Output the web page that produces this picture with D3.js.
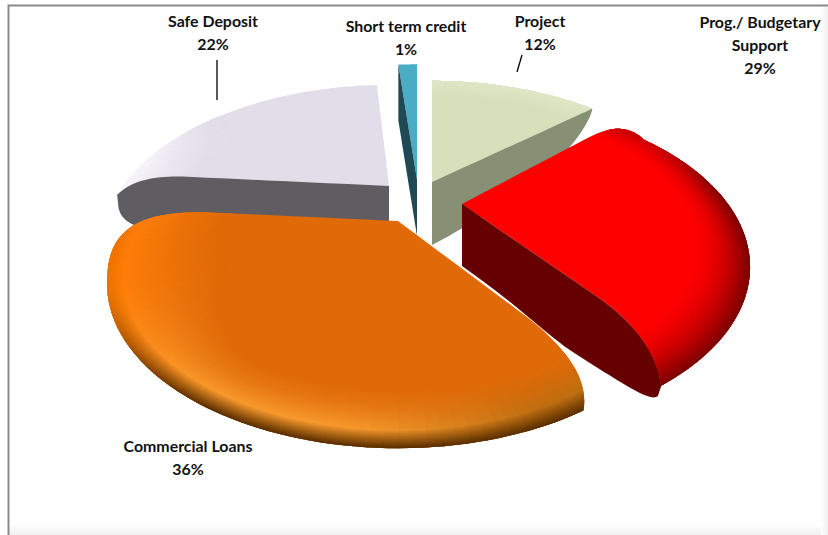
<!DOCTYPE html>
<html><head><meta charset="utf-8">
<script src="https://cdn.jsdelivr.net/npm/d3@7"></script>
<style>html,body{margin:0;padding:0;background:#fff;overflow:hidden}svg{display:block}
text{font-family:Lato,"Open Sans",sans-serif;font-weight:700;font-size:15.9px;fill:#111}</style>
</head><body><div id="chart"></div>
<script>
// ---- data ----
const categories = ["Project", "Prog./ Budgetary Support", "Commercial Loans", "Safe Deposit", "Short term credit"];
const shares = [12, 29, 36, 22, 1];

// ---- layout & style ----
const W = 828, H = 535;
const RX = 266, RY = 140, K = 0.384;          // perspective of the pie plane
// nominal pie angle -> apparent angle after the reference's 3-D perspective
const warp = d3.scaleLinear().domain([-10, 0, 43.2, 147.6, 277.2, 356.4, 360]).range([-10, 0, 50, 150, 275, 356.4, 360]);

const noCorner = {e: 0, rs: 1, rc: 1, d: 0};
const sliceStyle = [
 {apex:[432,182], s:1, sx:1, top:"#d6e0bb", rim:"#e4eace", wallFill:"#878f74", wallSide:"end", depth:63, grow:0, u0:0, pow:1.5, bulge:7,
  start:noCorner, end:{e:-1, rs:.8, rc:.97, d:-1}},
 {apex:[462,204], s:1, sx:1, top:"#ff0000", rim:"#7a0000", wallFill:"#660000", wallSide:"end", depth:62, grow:.06, u0:.35, pow:2, bulge:-20,
  start:{e:-5, rs:.8, rc:1.12, d:6}, end:{e:-7.5, rs:.66, rc:.87, d:0}},
 {apex:[398,221], s:1, sx:1.01, wallSide:"none", top:"#e06a08",
  start:{e:-5, rs:.64, rc:.9, d:3}, end:{e:0, rs:.7, rc:1.12, d:-25}},
 {apex:[389,186], s:1, sx:1, top:"#e1dde9", rim:"#f8f6fb", wallFill:"#5f5c62", wallSide:"start", depth:58, grow:0, u0:.72, pow:2, bulge:-10,
  start:{e:0, rs:.78, rc:.98, d:-8.5}, surfaceStart:-6, end:noCorner},
 {apex:[417,180], s:1.21, sx:1.35, top:"#4bacc6", rim:"#4bacc6", wallFill:"#1f4a55", wallSide:"start", depth:56, grow:0, u0:1, pow:2, bulge:0,
  start:noCorner, end:noCorner}
];
const labelLines = [
 {lines:["Project","12%"], x:540, y:[27,50]},
 {lines:["Prog./ Budgetary","Support","29%"], x:760, y:[28,51,74]},
 {lines:["Commercial Loans","36%"], x:188, y:[452,475]},
 {lines:["Safe Deposit","22%"], x:213, y:[27,50]},
 {lines:["Short term credit","1%"], x:406, y:[32,55]}
];
const leaders = [[[217,60],[217,100]],[[522,55],[517,72]]];

// ---- helpers ----
const rad = d => d*Math.PI/180;
function project(st, r, deg){
  const X = r*Math.sin(rad(deg))*st.sx*st.s, Y = r*Math.cos(rad(deg))*st.s;
  const w = 1 + K*r*Math.cos(rad(deg))*st.s;
  return [st.apex[0] + RX*X/w, st.apex[1] - RY*Y/w];
}
function planePt(r,deg){ return [r*Math.sin(rad(deg)), r*Math.cos(rad(deg))]; }
function cornerPts(st, a, c){
  const ae = a+c.e, pts = [];
  const P0 = planePt(c.rs,ae), P1 = planePt(c.rc,ae), P2 = planePt(1,a+c.d);
  d3.range(0,1.0001,.1).forEach(t=>{ pts.push([P0[0]*t,P0[1]*t]); });
  d3.range(.05,1.0001,.05).forEach(t=>{
    const m=1-t; pts.push([m*m*P0[0]+2*m*t*P1[0]+t*t*P2[0], m*m*P0[1]+2*m*t*P1[1]+t*t*P2[1]]);
  });
  return pts;
}
function toScreen(st,p){
  const x=p[0]*st.sx*st.s, y=p[1]*st.s, w=1+K*y;
  return [st.apex[0]+RX*x/w, st.apex[1]-RY*y/w];
}
const line = d3.line().curve(d3.curveLinear);
const smooth = t => { t=Math.max(0,Math.min(1,t)); return t*t*(3-2*t); };
const mix = (a,b,t)=>d3.interpolateRgb(a,b)(Math.max(0,Math.min(1,t)));

function shade(i,st,r,deg){
  if(i===1){ // red bevel, softer towards the back corner
    const t=Math.max((r-.82)/.18,0);
    const rimCol=mix("#cc0000",st.rim,smooth((deg-55)/35));
    return mix(st.top,rimCol,Math.pow(t,1.9));
  }
  if(i===2){ // orange bevel
    const left=smooth((deg-205)/45), tip=smooth((190-deg)/35);
    const ridge=mix(mix("#f89a2e","#ff7f0a",left),"#b86a10",tip*.9);
    const rim=mix("#5a2f00","#ef7400",left);
    const startR=.82-.22*left, rr=.95;
    if(r<rr) return mix(st.top,ridge,Math.pow(Math.max((r-startR)/(rr-startR),0),1.6));
    return mix(ridge,rim,(r-rr)/(1-rr));
  }
  if(i===3){
    const fade=smooth((310-deg)/35);
    return mix(st.top,st.rim,Math.pow(Math.max((r-.72)/.28,0),1.5)*fade);
  }
  if(i===0){ return mix(st.top,st.rim,Math.max((r-.8)/.2,0)*.7); }
  return st.top;
}

// ---- draw ----
const svg = d3.select("#chart").append("svg").attr("width",W).attr("height",H);
const defs = svg.append("defs");
const gb = defs.append("linearGradient").attr("id","fb").attr("x1",0).attr("x2",0).attr("y1",0).attr("y2",1);
gb.append("stop").attr("offset",0).attr("stop-color","#fff");
gb.append("stop").attr("offset",1).attr("stop-color","#f1f1f1");
const gr = defs.append("linearGradient").attr("id","fr");
gr.append("stop").attr("offset",0).attr("stop-color","#fff");
gr.append("stop").attr("offset",1).attr("stop-color","#efefef");
svg.append("rect").attr("width",W).attr("height",H).attr("fill","#fff");
svg.append("rect").attr("x",9).attr("y",524).attr("width",W-9).attr("height",11).attr("fill","url(#fb)");
svg.append("rect").attr("x",821).attr("y",6).attr("width",7).attr("height",H-6).attr("fill","url(#fr)");
svg.append("path").attr("d",`M8.5,${H}V5.5H${W}`).attr("fill","none").attr("stroke","#8a8a8a").attr("stroke-width",2);

const pie = d3.pie().sort(null).value(d=>d).startAngle(0).endAngle(2*Math.PI);
const arcs = pie(shares).map((a,i)=>({i, a0:warp(a.startAngle*180/Math.PI), a1:warp(a.endAngle*180/Math.PI), st:sliceStyle[i]}));

const chart = svg.append("g");
[3,4,0,1,2].forEach(idx=>{
  const {i,a0,a1,st}=arcs[idx], g=chart.append("g").attr("class","slice").attr("data-name",categories[i]);
  const sa0=a0+(st.surfaceStart||0);
  const startPts=st.surfaceStart?cornerPts(st,a0,{e:st.surfaceStart,rs:.98,rc:1,d:st.surfaceStart}):cornerPts(st,a0,st.start);
  const endPts=cornerPts(st,a1,st.end).reverse();
  const arcFrom=st.surfaceStart?sa0:a0+st.start.d, arcTo=a1+st.end.d;
  const n=Math.max(4,Math.ceil((arcTo-arcFrom)/1.5));
  const arcPts=d3.range(1,n).map(k=>planePt(1,arcFrom+(arcTo-arcFrom)*k/n));
  const outline=[...startPts,...arcPts,...endPts].map(p=>toScreen(st,p));
  const outlineD=line(outline)+"Z";
  g.append("path").attr("d",outlineD).attr("fill",st.top);
  const id="clip"+i;
  defs.append("clipPath").attr("id",id).append("path").attr("d",outlineD);
  if(i!==4){
    const cells=g.append("g").attr("clip-path",`url(#${id})`);
    const rMin=i===2?.56:.68, edgeR=.88;
    const rs=[...d3.range(rMin,edgeR,.012),...d3.range(edgeR,1.02,.004)];
    const ths=d3.range(sa0-4,a1+4,2);
    const base=d3.rgb(st.top).formatRgb();
    rs.forEach((r,k)=>{
      const dr=(k+1<rs.length?rs[k+1]:1.024)-r;
      ths.forEach(th=>{
        const c=shade(i,st,r+dr/2,th+1);
        if(c===base) return;
        const q=[project(st,r,th),project(st,r,th+2),project(st,r+dr,th+2),project(st,r+dr,th)];
        cells.append("path").attr("d",line(q)+"Z").attr("fill",c).attr("stroke",c).attr("stroke-width",.8);
      });
    });
  }
  if(st.wallSide!=="none"){
    const edge=(st.wallSide==="end"?cornerPts(st,a1,st.end):cornerPts(st,a0,st.start)).map(p=>toScreen(st,p));
    const lens=[0]; for(let k=1;k<edge.length;k++) lens.push(lens[k-1]+Math.hypot(edge[k][0]-edge[k-1][0],edge[k][1]-edge[k-1][1]));
    const L=lens[lens.length-1];
    const bottom=edge.map((p,k)=>{
      const u=lens[k]/L, v=st.u0>=1?0:Math.max(0,(u-st.u0)/(1-st.u0));
      const f=Math.pow(Math.max(0,1-Math.pow(v,st.pow)),1/st.pow);
      return [p[0]+st.bulge*Math.sin(Math.PI*Math.min(1,u*u)), p[1]+st.depth*(1+st.grow*u)*f];
    });
    g.append("path").attr("d",line(edge.concat(bottom.reverse()))+"Z").attr("fill",st.wallFill);
  }
});

const lab=svg.append("g");
labelLines.forEach(l=>l.lines.forEach((t,j)=>{
  lab.append("text").attr("x",l.x).attr("y",l.y[j]).attr("text-anchor","middle").text(t);
}));
leaders.forEach(d=>svg.append("path").attr("d",line(d)).attr("stroke","#000").attr("stroke-width",1.3).attr("fill","none"));
</script></body></html>
